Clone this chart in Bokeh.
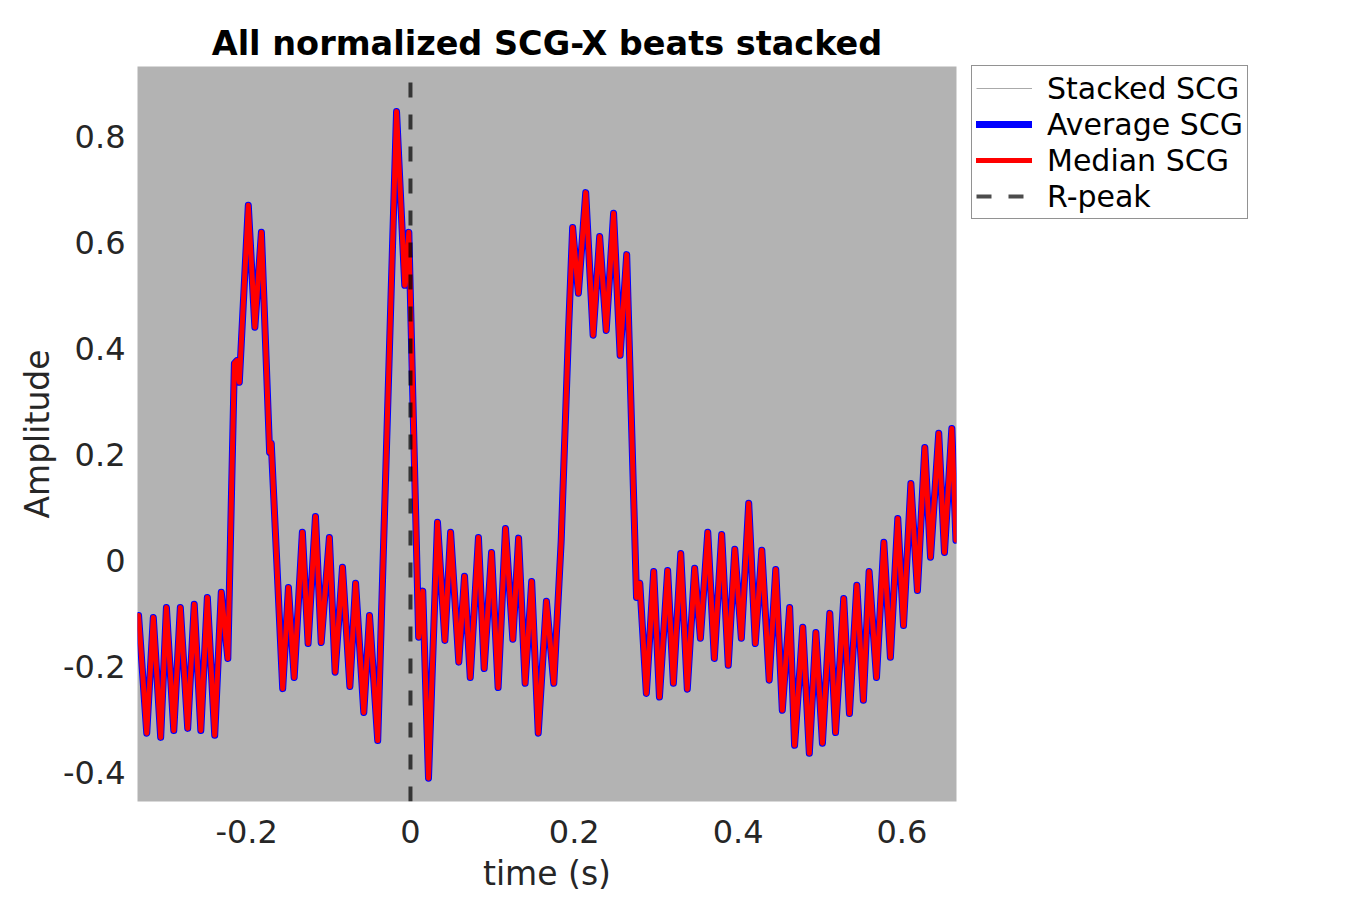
from bokeh.plotting import figure
from bokeh.models import Range1d, FixedTicker, Legend, LegendItem
from bokeh.embed import file_html
from bokeh.resources import INLINE

# time (s) of the local extrema of the beat
time_s = [
    -0.332, -0.322, -0.314, -0.305, -0.298, -0.289, -0.281, -0.272, -0.264, -0.256,
    -0.248, -0.239, -0.231, -0.223, -0.215, -0.212, -0.209, -0.198, -0.190, -0.182,
    -0.172, -0.170, -0.156, -0.149, -0.142, -0.132, -0.125, -0.116, -0.109, -0.099,
    -0.092, -0.083, -0.074, -0.067, -0.057, -0.050, -0.040, -0.017, -0.007, -0.002,
    0.010, 0.015, 0.022, 0.033, 0.042, 0.049, 0.059, 0.066, 0.073, 0.083,
    0.090, 0.099, 0.107, 0.116, 0.125, 0.132, 0.140, 0.148, 0.156, 0.166,
    0.175, 0.184, 0.193, 0.198, 0.205, 0.214, 0.223, 0.231, 0.239, 0.248,
    0.256, 0.264, 0.276, 0.280, 0.288, 0.297, 0.304, 0.314, 0.321, 0.330,
    0.338, 0.347, 0.354, 0.363, 0.371, 0.380, 0.388, 0.396, 0.404, 0.413,
    0.421, 0.429, 0.438, 0.446, 0.454, 0.463, 0.469, 0.479, 0.487, 0.495,
    0.503, 0.512, 0.519, 0.529, 0.536, 0.545, 0.553, 0.560, 0.569, 0.578,
    0.586, 0.595, 0.602, 0.611, 0.619, 0.628, 0.635, 0.645, 0.652, 0.661,
    0.666,
]

# median SCG amplitude at those times
median_scg = [
    -0.104, -0.326, -0.108, -0.334, -0.089, -0.321, -0.089, -0.317, -0.083, -0.321,
    -0.070, -0.330, -0.060, -0.185, 0.372, 0.377, 0.336, 0.670, 0.440, 0.619,
    0.204, 0.221, -0.242, -0.051, -0.221, 0.053, -0.157, 0.083, -0.155, 0.043,
    -0.211, -0.013, -0.238, -0.043, -0.287, -0.104, -0.340, 0.847, 0.519, 0.619,
    -0.145, -0.058, -0.411, 0.072, -0.151, 0.053, -0.192, -0.030, -0.221, 0.043,
    -0.204, 0.015, -0.240, 0.060, -0.149, 0.042, -0.232, -0.040, -0.326, -0.077,
    -0.232, 0.036, 0.434, 0.628, 0.504, 0.694, 0.425, 0.611, 0.434, 0.655,
    0.387, 0.577, -0.070, -0.043, -0.251, -0.021, -0.258, -0.019, -0.232, 0.013,
    -0.243, -0.015, -0.147, 0.053, -0.185, 0.049, -0.198, 0.021, -0.147, 0.108,
    -0.157, 0.019, -0.226, -0.017, -0.283, -0.089, -0.349, -0.126, -0.364, -0.136,
    -0.345, -0.100, -0.325, -0.072, -0.289, -0.047, -0.264, -0.021, -0.221, 0.034,
    -0.183, 0.079, -0.123, 0.145, -0.057, 0.213, 0.006, 0.240, 0.015, 0.249,
    0.038,
]

# average SCG (visually identical to the median at this scale)
average_scg = list(median_scg)

rpeak_time = [0.0]

x_ticks = [-0.2, 0.0, 0.2, 0.4, 0.6]
x_tick_labels = ["-0.2", "0", "0.2", "0.4", "0.6"]
y_ticks = [-0.4, -0.2, 0.0, 0.2, 0.4, 0.6, 0.8]
y_tick_labels = ["-0.4", "-0.2", "0", "0.2", "0.4", "0.6", "0.8"]

x_lo, x_hi = -0.3333, 0.6667
y_lo, y_hi = -0.455, 0.932

FONT = "DejaVu Sans"

p = figure(
    width=1334, height=890,
    frame_width=819, frame_height=735,
    min_border_left=137, min_border_top=66, min_border_bottom=89, min_border_right=378,
    x_range=Range1d(x_lo, x_hi), y_range=Range1d(y_lo, y_hi),
    output_backend="svg", toolbar_location=None,
    title="All normalized SCG-X beats stacked",
)

p.background_fill_color = "#b3b3b3"
p.border_fill_color = "white"
p.outline_line_color = None
p.xgrid.visible = False
p.ygrid.visible = False

p.title.align = "center"
p.title.text_font = FONT
p.title.text_font_size = "33.5px"
p.title.text_font_style = "bold"
p.title.text_color = "black"
p.title.standoff = 8

for ax in (p.xaxis[0], p.yaxis[0]):
    ax.axis_line_color = None
    ax.major_tick_line_color = None
    ax.minor_tick_line_color = None
    ax.major_label_text_font = FONT
    ax.major_label_text_font_size = "32px"
    ax.major_label_text_color = "#262626"
    ax.axis_label_text_font = FONT
    ax.axis_label_text_font_size = "33px"
    ax.axis_label_text_font_style = "normal"
    ax.axis_label_text_color = "#262626"

p.xaxis[0].major_label_standoff = 12
p.xaxis[0].axis_label_standoff = 8
p.yaxis[0].major_label_standoff = 6
p.yaxis[0].axis_label_standoff = 3

p.xaxis.ticker = FixedTicker(ticks=x_ticks)
p.xaxis.major_label_overrides = {t: l for t, l in zip(x_ticks, x_tick_labels)}
p.yaxis.ticker = FixedTicker(ticks=y_ticks)
p.yaxis.major_label_overrides = {t: l for t, l in zip(y_ticks, y_tick_labels)}
p.xaxis.axis_label = "time (s)"
p.yaxis.axis_label = "Amplitude"

r_stack = p.line(time_s, median_scg, line_color="#aaaaaa", line_width=1)
r_avg = p.line(time_s, average_scg, line_color="#0000ff", line_width=7,
               line_join="round", line_cap="round")
r_med = p.line(time_s, median_scg, line_color="#ff0000", line_width=5,
               line_join="round", line_cap="round")
r_peak = p.segment(x0=rpeak_time, y0=[y_lo], x1=rpeak_time, y1=[y_hi],
                   line_color="black", line_alpha=0.7, line_width=4, line_dash="15 17")

legend = Legend(
    items=[
        LegendItem(label="Stacked SCG", renderers=[r_stack]),
        LegendItem(label="Average SCG", renderers=[r_avg]),
        LegendItem(label="Median SCG", renderers=[r_med]),
        LegendItem(label="R-peak", renderers=[r_peak]),
    ],
    location=(15, 582),
    orientation="vertical",
    label_text_font=FONT,
    label_text_font_size="30px",
    label_text_color="black",
    glyph_width=56,
    glyph_height=36,
    label_height=36,
    label_standoff=15,
    padding=4,
    spacing=0,
    margin=0,
    border_line_color="#262626",
    border_line_width=1,
    background_fill_color="white",
    background_fill_alpha=1.0,
)
p.add_layout(legend, "right")

open("out.html", "w").write(file_html(p, INLINE))
